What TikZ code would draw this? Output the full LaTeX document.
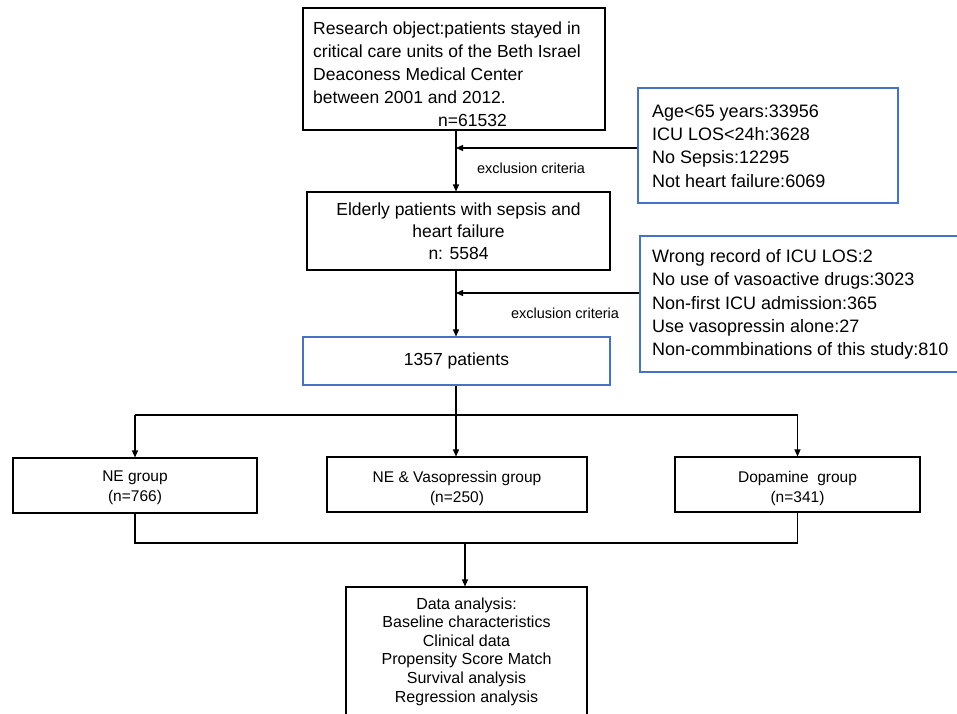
\documentclass[tikz,border=0pt]{standalone}
\usepackage{fontspec}
\setmainfont{Liberation Sans}
\usetikzlibrary{arrows.meta}
\definecolor{boxblue}{RGB}{68,114,196}
\begin{document}
\begin{tikzpicture}[x=1pt,y=-1pt,
  frame/.style={draw=black,line width=1.1pt,inner sep=0pt,align=center},
  bframe/.style={frame,draw=boxblue},
  txt/.style={inner sep=0pt,align=left,anchor=west},
  big/.style={font=\fontsize{17.5}{23}\selectfont},
  mid/.style={font=\fontsize{18}{23.3}\selectfont},
  grp/.style={font=\fontsize{15.5}{20}\selectfont},
  ana/.style={font=\fontsize{16}{18.6}\selectfont},
  lbl/.style={inner sep=0pt,font=\fontsize{14.5}{17}\selectfont},
  line/.style={line width=1.1pt},
  arr/.style={line,-{Triangle[length=7pt,width=6pt]}}]
\useasboundingbox (0,0) rectangle (957,713);
\fill[white] (0,0) rectangle (957,713);

% boxes
\node[frame,minimum width=302pt,minimum height=122pt] (top) at (454,69) {};
\node[txt,big] (toptext) at (313,74) {Research object:patients stayed in\\critical care units of the Beth Israel\\Deaconess Medical Center\\between 2001 and 2012.\\\hspace*{125pt}n=61532};

\node[bframe,minimum width=260pt,minimum height=115pt] (ex1) at (768,145.5) {};
\node[txt,mid] (ex1text) at (652,146) {Age<65 years:33956\\ICU LOS<24h:3628\\No Sepsis:12295\\Not heart failure:6069};

\node[frame,minimum width=303pt,minimum height=78pt,font=\fontsize{17.5}{22}\selectfont] (eld) at (458.5,231) {Elderly patients with sepsis and\\heart failure\\n: 5584};

\node[bframe,minimum width=335pt,minimum height=136pt] (ex2) at (807.5,304) {};
\node[txt,mid] (ex2text) at (652,304.5) {Wrong record of ICU LOS:2\\No use of vasoactive drugs:3023\\Non-first ICU admission:365\\Use vasopressin alone:27\\Non-commbinations of this study:810};

\node[bframe,font=\fontsize{17.5}{22}\selectfont,minimum width=307pt,minimum height=48pt] (p1357) at (456.5,361) {1357 patients};

\node[frame,minimum width=244pt,minimum height=55pt] (ne) at (135,485.5) {};
\node[frame,minimum width=260pt,minimum height=55pt] (nev) at (457,484.5) {};
\node[frame,minimum width=245pt,minimum height=55pt] (dop) at (797.5,484.5) {};
\node[grp,inner sep=0pt,align=center] (netext) at (135,488) {NE group\\(n=766)};
\node[grp,inner sep=0pt,align=center] (nevtext) at (457,488) {NE \& Vasopressin group\\(n=250)};
\node[grp,inner sep=0pt,align=center] (doptext) at (797.5,488) {Dopamine\ \ group\\(n=341)};

\node[frame,ana,minimum width=241pt,minimum height=129pt] (ana) at (466.5,651.5) {Data analysis:\\Baseline characteristics\\Clinical data\\Propensity Score Match\\Survival analysis\\Regression analysis};

% junctions
\coordinate (j1) at (456,148);
\coordinate (j2) at (456,293);
\coordinate (j3) at (456,415);
\coordinate (j4) at (465,543);

% connectors
\draw[arr] (top.south -| j1) -- (eld.north -| j1);
\draw[arr] (ex1.west |- j1) -- (j1);
\node[lbl] (l1) at (531,168) {exclusion criteria};

\draw[arr] (eld.south -| j2) -- (p1357.north -| j2);
\draw[arr] (ex2.west |- j2) -- (j2);
\node[lbl] (l2) at (565,313) {exclusion criteria};

\draw[line] (p1357.south -| j3) -- (j3);
\draw[line] (ne.north |- j3) -- (dop.north |- j3);
\draw[arr] (ne.north |- j3) -- (ne.north);
\draw[arr] (j3) -- (nev.north -| j3);
\draw[arr] (dop.north |- j3) -- (dop.north);

\draw[line] (ne.south) -- (ne.south |- j4) -- (dop.south |- j4) -- (dop.south);
\draw[arr] (j4) -- (ana.north -| j4);
\end{tikzpicture}
\end{document}
